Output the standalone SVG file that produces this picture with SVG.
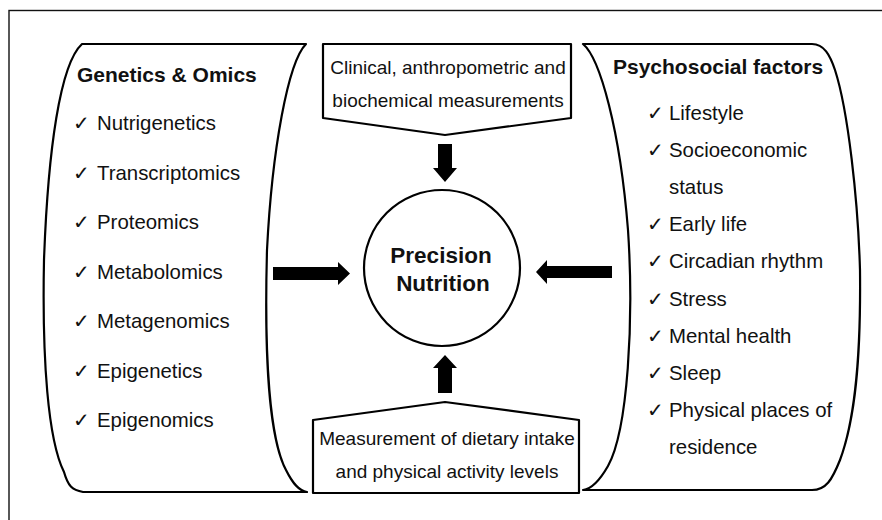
<svg xmlns="http://www.w3.org/2000/svg" width="882" height="520" viewBox="0 0 882 520">
  <style>
    .frame { fill: none; stroke: #111; stroke-width: 1.4; }
    .shape { fill: #fff; stroke: #000; stroke-width: 2.2; stroke-linejoin: round; }
    .arrow { fill: #000; stroke: none; }
    text { font-family: "Liberation Sans", Arial, sans-serif; fill: #111; }
    .head { font-size: 21px; font-weight: bold; }
    .item { font-size: 20.4px; }
    .ck { font-family: "DejaVu Sans", sans-serif; font-size: 20px; }
    .box { font-size: 19px; text-anchor: middle; }
    .core { font-size: 22.5px; font-weight: bold; text-anchor: middle; }
  </style>

  <rect x="0" y="0" width="882" height="520" fill="#fff"/>
  <!-- outer frame, open at right and bottom edges -->
  <rect class="frame" x="9" y="10.5" width="900" height="600"/>

  <!-- left scroll: genetics and omics -->
  <g id="genetics">
    <path class="shape" d="M82,44 L306,44 C288,62 272,150 267,250 C264,360 270,440 286,470 C293,484 299,491 307,492 L83,492 C72,490 68,486 64,472 C48,440 42,360 44,260 C48,150 60,64 82,44 Z"/>
    <text class="head" x="77" y="82">Genetics &amp; Omics</text>
    <text class="item" x="73" y="130"><tspan class="ck">✓</tspan><tspan x="97">Nutrigenetics</tspan></text>
    <text class="item" x="73" y="179.5"><tspan class="ck">✓</tspan><tspan x="97">Transcriptomics</tspan></text>
    <text class="item" x="73" y="229"><tspan class="ck">✓</tspan><tspan x="97">Proteomics</tspan></text>
    <text class="item" x="73" y="278.5"><tspan class="ck">✓</tspan><tspan x="97">Metabolomics</tspan></text>
    <text class="item" x="73" y="328"><tspan class="ck">✓</tspan><tspan x="97">Metagenomics</tspan></text>
    <text class="item" x="73" y="377.5"><tspan class="ck">✓</tspan><tspan x="97">Epigenetics</tspan></text>
    <text class="item" x="73" y="427"><tspan class="ck">✓</tspan><tspan x="97">Epigenomics</tspan></text>
  </g>

  <!-- right scroll: psychosocial factors -->
  <g id="psychosocial">
    <path class="shape" d="M583,44 L812,44 C824,44 830,55 835,70 C848,110 858,200 860,270 C861,360 855,420 840,460 C832,480 826,490 812,490 L583,490 C592,489 600,480 608,466 C628,430 634,320 628,230 C620,130 600,58 583,44 Z"/>
    <text class="head" x="613" y="74">Psychosocial factors</text>
    <text class="item" x="647" y="120"><tspan class="ck">✓</tspan><tspan x="669">Lifestyle</tspan></text>
    <text class="item" x="647" y="157"><tspan class="ck">✓</tspan><tspan x="669">Socioeconomic</tspan></text>
    <text class="item" x="669" y="194">status</text>
    <text class="item" x="647" y="231"><tspan class="ck">✓</tspan><tspan x="669">Early life</tspan></text>
    <text class="item" x="647" y="268"><tspan class="ck">✓</tspan><tspan x="669">Circadian rhythm</tspan></text>
    <text class="item" x="647" y="305.5"><tspan class="ck">✓</tspan><tspan x="669">Stress</tspan></text>
    <text class="item" x="647" y="342.5"><tspan class="ck">✓</tspan><tspan x="669">Mental health</tspan></text>
    <text class="item" x="647" y="380"><tspan class="ck">✓</tspan><tspan x="669">Sleep</tspan></text>
    <text class="item" x="647" y="417"><tspan class="ck">✓</tspan><tspan x="669">Physical places of</tspan></text>
    <text class="item" x="669" y="454">residence</text>
  </g>

  <!-- top input: clinical measurements -->
  <g id="clinical">
    <path class="shape" d="M323,44 L571,44 L571,118 L445,135 L323,118 Z"/>
    <text class="box" x="448" y="74">Clinical, anthropometric and</text>
    <text class="box" x="448" y="107">biochemical measurements</text>
  </g>

  <!-- bottom input: dietary intake and activity -->
  <g id="dietary">
    <path class="shape" d="M313,420 L445,402 L579,420 L579,493 L313,493 Z"/>
    <text class="box" x="447" y="445">Measurement of dietary intake</text>
    <text class="box" x="447" y="478">and physical activity levels</text>
  </g>

  <!-- central goal -->
  <g id="precision">
    <circle class="shape" cx="442" cy="268" r="78"/>
    <text class="core" x="441" y="263">Precision</text>
    <text class="core" x="443" y="291">Nutrition</text>
  </g>

  <!-- block arrows pointing into the centre -->
  <g id="connectors">
    <path class="arrow" d="M438,144 H452 V168 H457 L445,182 L433,168 H438 Z"/>
    <path class="arrow" d="M438,393 H452 V368 H457 L445,355 L433,368 H438 Z"/>
    <path class="arrow" d="M273,267 H338 V262 L350,273.5 L338,285 V280 H273 Z"/>
    <path class="arrow" d="M612,266 H547 V260 L536,272 L547,284 V278 H612 Z"/>
  </g>
</svg>
